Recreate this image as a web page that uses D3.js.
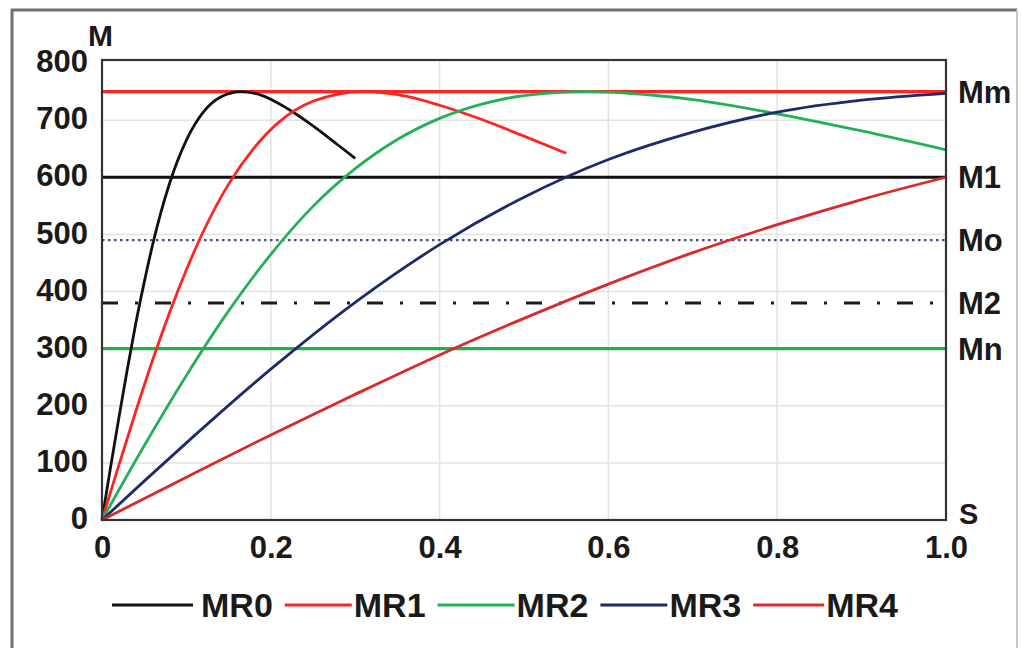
<!DOCTYPE html>
<html>
<head>
<meta charset="utf-8">
<script src="https://cdn.jsdelivr.net/npm/d3@7"></script>
<style>
  html, body { margin: 0; padding: 0; background: #fff; }
  svg { display: block; }
  text { font-family: "Liberation Sans", Arial, sans-serif; font-weight: bold; fill: #1a1a1a; }
</style>
</head>
<body>
<svg id="chart" width="1021" height="648"></svg>
<script>
// ---------- data ----------
const yTicks = [0, 100, 200, 300, 400, 500, 600, 700, 800];
const xTicks = [0, 0.2, 0.4, 0.6, 0.8, 1.0];
const xTickLabels = ["0", "0.2", "0.4", "0.6", "0.8", "1.0"];

const seriesNames = ["MR0", "MR1", "MR2", "MR3", "MR4"];

const sMR0 = [0, 0.01, 0.02, 0.03, 0.04, 0.05, 0.06, 0.08, 0.10, 0.12, 0.14, 0.165, 0.19, 0.22, 0.25, 0.28, 0.30];
const mMR0 = [0, 91, 179, 264, 344, 416, 482, 589, 665, 714, 740, 750, 743, 720, 690, 656, 633];

const sMR1 = [0, 0.02, 0.04, 0.06, 0.08, 0.10, 0.12, 0.15, 0.18, 0.21, 0.25, 0.31, 0.36, 0.40, 0.45, 0.50, 0.55];
const mMR1 = [0, 96, 190, 280, 363, 438, 505, 588, 651, 697, 733, 750, 742, 726, 701, 672, 642];

const sMR2 = [0, 0.05, 0.10, 0.15, 0.20, 0.25, 0.30, 0.35, 0.40, 0.45, 0.50, 0.575, 0.65, 0.70, 0.80, 0.90, 1.00];
const mMR2 = [0, 130, 253, 366, 465, 549, 615, 666, 703, 728, 743, 750, 744, 736, 711, 681, 648];

const sMR3 = [0, 0.05, 0.10, 0.20, 0.30, 0.40, 0.50, 0.60, 0.70, 0.80, 0.90, 1.00];
const mMR3 = [0, 68, 135, 264, 381, 482, 565, 631, 679, 714, 735, 747];

const sMR4 = [0, 0.1, 0.2, 0.3, 0.4, 0.5, 0.6, 0.7, 0.8, 0.9, 1.0];
const mMR4 = [0, 75, 149, 220, 289, 353, 413, 468, 517, 561, 600];

// reference torque levels
const refNames  = ["Mm", "M1", "Mo", "M2", "Mn"];
const refValues = [750, 600, 490, 380, 300];

// ---------- styles ----------
const seriesColors = ["#111111", "#ff2424", "#25b058", "#1d2a6c", "#d92a2a"];
const refStyles = [
  { color: "#ff2424", width: 3.2, dash: null },
  { color: "#111111", width: 3.2, dash: null },
  { color: "#4a4a78", width: 2.2, dash: "2.5,3.5" },
  { color: "#1a1a1a", width: 3, dash: "16,17,3,17" },
  { color: "#22b04a", width: 3.4, dash: null }
];

// ---------- layout ----------
const svg = d3.select("#chart");
const pLeft = 102, pRight = 946, pTop = 60, pBottom = 520;

const x = d3.scaleLinear().domain([0, 1]).range([pLeft, pRight]);
const y = d3.scaleLinear().domain([0, 800]).range([pBottom, 63]);

// outer frame (left/top darker, right faint)
svg.append("line").attr("x1", 12).attr("x2", 12).attr("y1", 9).attr("y2", 648)
  .attr("stroke", "#707070").attr("stroke-width", 3);
svg.append("line").attr("x1", 11).attr("x2", 1017).attr("y1", 10).attr("y2", 10)
  .attr("stroke", "#707070").attr("stroke-width", 3);
svg.append("line").attr("x1", 1017).attr("x2", 1017).attr("y1", 10).attr("y2", 648)
  .attr("stroke", "#c8c8c8").attr("stroke-width", 2);

// grid
const grid = svg.append("g");
grid.selectAll("line.h").data(yTicks.filter(v => v > 0 && v < 800)).join("line")
  .attr("x1", pLeft).attr("x2", pRight)
  .attr("y1", d => y(d)).attr("y2", d => y(d))
  .attr("stroke", "#e2e2e2").attr("stroke-width", 1.5);
grid.selectAll("line.v").data(xTicks.filter(v => v > 0 && v < 1)).join("line")
  .attr("y1", pTop).attr("y2", pBottom)
  .attr("x1", d => x(d)).attr("x2", d => x(d))
  .attr("stroke", "#e2e2e2").attr("stroke-width", 1.5);

// reference lines
const refs = svg.append("g");
refValues.forEach((v, i) => {
  const st = refStyles[i];
  refs.append("line")
    .attr("x1", pLeft).attr("x2", pRight)
    .attr("y1", y(v)).attr("y2", y(v))
    .attr("stroke", st.color).attr("stroke-width", st.width)
    .attr("stroke-dasharray", st.dash);
  svg.append("text")
    .attr("x", 958).attr("y", y(v)).attr("dy", "0.36em")
    .style("font-size", "31px")
    .text(refNames[i]);
});

// curves
const sArrays = [sMR0, sMR1, sMR2, sMR3, sMR4];
const mArrays = [mMR0, mMR1, mMR2, mMR3, mMR4];
const lineGen = d3.line().x(d => x(d[0])).y(d => y(d[1])).curve(d3.curveMonotoneX);
seriesNames.forEach((name, i) => {
  const pts = sArrays[i].map((s, j) => [s, mArrays[i][j]]);
  svg.append("path")
    .datum(pts)
    .attr("d", lineGen)
    .attr("fill", "none")
    .attr("stroke", seriesColors[i])
    .attr("stroke-width", 2.8)
    .attr("stroke-linejoin", "round");
});

// plot border
svg.append("rect")
  .attr("x", pLeft).attr("y", pTop).attr("width", pRight - pLeft).attr("height", pBottom - pTop)
  .attr("fill", "none").attr("stroke", "#333").attr("stroke-width", 2.2);

// axes
const yAxis = svg.append("g").attr("transform", `translate(${pLeft},0)`)
  .call(d3.axisLeft(y).tickValues(yTicks).tickSize(0).tickPadding(14).tickFormat(d3.format("d")));
yAxis.select(".domain").remove();
yAxis.selectAll("text").style("font-size", "31px").attr("dy", "0.28em")
  .style("font-family", "'Liberation Sans', Arial, sans-serif").style("font-weight", "bold").attr("fill", "#1a1a1a");

const xAxis = svg.append("g").attr("transform", `translate(0,${pBottom})`)
  .call(d3.axisBottom(x).tickValues(xTicks).tickSize(0).tickPadding(16)
    .tickFormat((d, i) => xTickLabels[i]));
xAxis.select(".domain").remove();
xAxis.selectAll("text").style("font-size", "31px")
  .style("font-family", "'Liberation Sans', Arial, sans-serif").style("font-weight", "bold").attr("fill", "#1a1a1a");

// axis titles
svg.append("text").attr("x", 88).attr("y", 46).style("font-size", "30px").text("M");
svg.append("text").attr("x", 959).attr("y", 524).style("font-size", "29px").text("S");

// legend
const leg = svg.append("g");
let lx = 112;
const ly = 605;
const lineLens = [81, 67, 77, 67, 71];
seriesNames.forEach((name, i) => {
  leg.append("line")
    .attr("x1", lx).attr("x2", lx + lineLens[i])
    .attr("y1", ly).attr("y2", ly)
    .attr("stroke", seriesColors[i]).attr("stroke-width", 3);
  lx += lineLens[i] + (i === 0 ? 8 : 2);
  const t = leg.append("text")
    .attr("x", lx).attr("y", ly).attr("dy", "0.36em")
    .style("font-size", "34px")
    .text(name);
  lx += t.node().getComputedTextLength() + 12;
});
</script>
</body>
</html>
